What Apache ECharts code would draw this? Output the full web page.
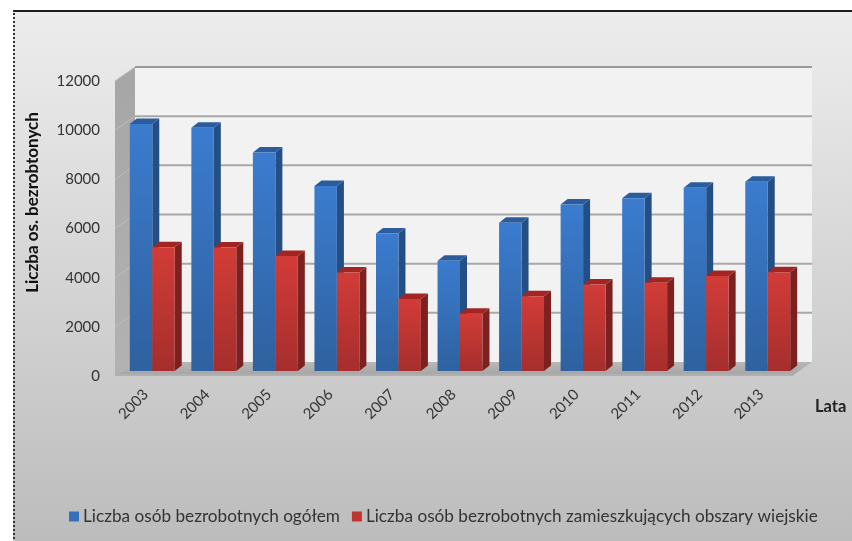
<!DOCTYPE html>
<html>
<head>
<meta charset="utf-8">
<script src="https://cdn.jsdelivr.net/npm/echarts@6/dist/echarts.min.js"></script>
<style>
    html, body{ margin: 0; padding: 0; background: #fff; }
    .frame{
        position: absolute; left: 13px; top: 10px; width: 837px; height: 531px;
        border-top: 2px solid #1c1c1c; border-left: 2px dotted #333;
        background: linear-gradient(180deg, #ececec 0%, #e6e6e6 15%, #bcbcbc 100%);
    }
    #chart{ position: absolute; left: 0; top: 0; width: 852px; height: 541px; }
</style>
</head>
<body>
<div class="frame"></div>
<div id="chart"></div>
<script>
const years = ['2003','2004','2005','2006','2007','2008','2009','2010','2011','2012','2013'];
const yTicks = [0, 2000, 4000, 6000, 8000, 10000, 12000];
const totalName = 'Liczba osób bezrobotnych ogółem';
const ruralName = 'Liczba osób bezrobotnych zamieszkujących obszary wiejskie';
const total = [10050, 9900, 8890, 7530, 5590, 4480, 6030, 6770, 7030, 7450, 7700];
const rural = [5030, 5020, 4680, 4010, 2930, 2330, 3040, 3520, 3590, 3860, 4020];

// 3d look: wall depth and where the bars stand inside that depth
const wallDx = 20, wallDy = -14;
const barDx = 6.5, barDy = -5, barDepthX = 7, barDepthY = -5.5;
const barRatio = 0.365;

function vGrad(a, b){
    return new echarts.graphic.LinearGradient(0, 0, 0, 1, [{offset: 0, color: a}, {offset: 1, color: b}]);
}
function poly(points, fill, z2){
    return {type: 'polygon', shape: {points: points}, style: {fill: fill}, z2: z2 || 0};
}

function renderWalls(params, api){
    const c = params.coordSys;
    const l = c.x, r = c.x + c.width, t = c.y, b = c.y + c.height;
    return {type: 'group', children: [
        // back wall
        poly([[l + wallDx, t + wallDy], [r + wallDx, t + wallDy], [r + wallDx, b + wallDy], [l + wallDx, b + wallDy]], '#f2f2f2'),
        // left wall
        poly([[l, t], [l + wallDx, t + wallDy], [l + wallDx, b + wallDy], [l, b]], vGrad('#a6a6a6', '#b2b2b2')),
        // floor
        poly([[l, b], [l + wallDx, b + wallDy], [r + wallDx, b + wallDy], [r, b]], vGrad('#b8b8b8', '#a4a4a4')),
        {type: 'rect', shape: {x: l, y: b - 2, width: r - l, height: 2}, style: {fill: '#b0b0b0'}}
    ]};
}

function renderGridLine(params, api){
    const c = params.coordSys;
    const y = api.coord([0, api.value(1)])[1];
    const l = c.x, r = c.x + c.width;
    const isTop = api.value(1) === yTicks[yTicks.length - 1];
    return {type: 'group', children: [
        {type: 'line', shape: {x1: l, y1: y, x2: l + wallDx, y2: y + wallDy}, style: {stroke: '#bdbdbd', lineWidth: 1}},
        {type: 'line', shape: {x1: l + wallDx, y1: y + wallDy, x2: r + wallDx, y2: y + wallDy}, style: {stroke: isTop ? '#999' : '#a8a8a8', lineWidth: 2}}
    ]};
}

function makeBarRenderer(slot, front, frontEnd, side, top){
    return function(params, api){
        const band = api.size([1, 0])[0];
        const w = band * barRatio;
        const pt = api.coord([api.value(0), api.value(1)]);
        const base = api.coord([api.value(0), 0]);
        const x0 = pt[0] + barDx + (slot === 0 ? -w : 0);
        const x1 = x0 + w;
        const yt = pt[1] + barDy;
        const yb = base[1] + barDy;
        return {type: 'group', children: [
            poly([[x1, yt], [x1 + barDepthX, yt + barDepthY], [x1 + barDepthX, yb + barDepthY], [x1, yb]], side),
            poly([[x0, yt], [x0 + barDepthX, yt + barDepthY], [x1 + barDepthX, yt + barDepthY], [x1, yt]], top),
            poly([[x0, yt], [x1, yt], [x1, yb], [x0, yb]], vGrad(front, frontEnd))
        ]};
    };
}

const labelFont = 'Lato';
const myChart = echarts.init(document.getElementById('chart'));
myChart.setOption({
    animation: false,
    backgroundColor: 'transparent',
    textStyle: {fontFamily: labelFont, color: '#333'},
    legend: {
        data: [totalName, ruralName],
        left: 69, top: 508, padding: 0,
        itemWidth: 10, itemHeight: 10, itemGap: 12,
        icon: 'rect',
        textStyle: {fontFamily: labelFont, fontSize: 17.2, color: '#333', padding: [0, 0, 0, -1]}
    },
    grid: {left: 115, top: 81, width: 677, height: 295},
    xAxis: {
        type: 'category',
        data: years,
        axisLine: {show: false},
        axisTick: {show: false},
        axisLabel: {rotate: 45, margin: 16, fontSize: 15, fontFamily: labelFont, color: '#333'},
        name: 'Lata',
        nameLocation: 'end',
        nameGap: 23,
        nameTextStyle: {fontFamily: labelFont, fontSize: 16.5, fontWeight: 'bold', color: '#222', verticalAlign: 'top', padding: [22, 0, 0, 0]}
    },
    yAxis: {
        type: 'value',
        min: 0, max: 12000, interval: 2000,
        axisLine: {show: false},
        axisTick: {show: false},
        splitLine: {show: false},
        axisLabel: {margin: 15, fontSize: 15, fontFamily: labelFont, color: '#333', formatter: v => String(v)},
        name: 'Liczba os. bezrobtonych',
        nameLocation: 'middle',
        nameRotate: 90,
        nameGap: 74,
        nameTextStyle: {fontFamily: labelFont, fontSize: 17, fontWeight: 'bold', color: '#111', padding: [0, 0, 0, 52]}
    },
    series: [
        {type: 'custom', name: 'walls', data: [[0, 0]], renderItem: renderWalls, silent: true, z: 1},
        {type: 'custom', name: 'grid', data: yTicks.slice(1).map(v => [0, v]), renderItem: renderGridLine, silent: true, z: 2},
        {
            type: 'custom', name: totalName, z: 3,
            itemStyle: {color: '#3470bd'},
            data: total.map((v, i) => [i, v]),
            encode: {x: 0, y: 1},
            renderItem: makeBarRenderer(0, '#3b7ccf', '#2e619f', '#234f85', '#2a5c9e')
        },
        {
            type: 'custom', name: ruralName, z: 4,
            itemStyle: {color: '#c0352f'},
            data: rural.map((v, i) => [i, v]),
            encode: {x: 0, y: 1},
            renderItem: makeBarRenderer(1, '#d23c37', '#a52e2d', '#7c2020', '#a22524')
        }
    ]
});
</script>
</body>
</html>
